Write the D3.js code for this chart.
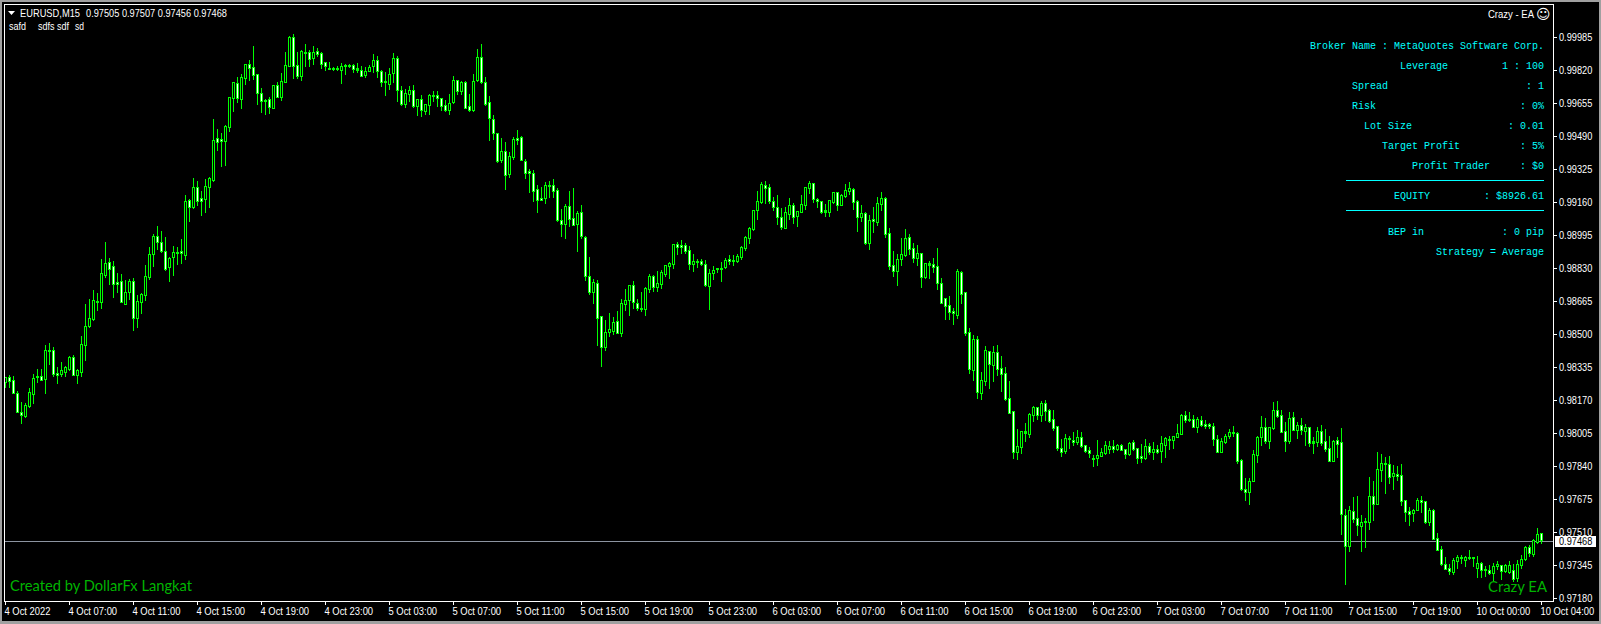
<!DOCTYPE html>
<html>
<head>
<meta charset="utf-8">
<script src="https://cdn.jsdelivr.net/npm/d3@7"></script>
<style>
html,body{margin:0;padding:0;background:#000;overflow:hidden}
svg{display:block}
text{font-family:"Liberation Sans",sans-serif}
</style>
</head>
<body>
<svg id="c" width="1601" height="624"></svg>
<script>
// Prices in points (1e-5), one row = 16 M15 bars
const opens=[
98260,98285,98270,98205,98110,98090,98140,98200,98285,98290,98275,98420,98420,98305,98300,98310,
98325,98385,98295,98310,98445,98540,98575,98665,98660,98795,98860,98840,98760,98765,98650,98710,
98765,98580,98660,98695,98785,98900,98990,98960,98915,98835,98885,98910,98915,98895,99170,99135,
99235,99180,99175,99235,99270,99480,99475,99465,99535,99680,99755,99675,99780,99850,99835,99800,
99705,99670,99675,99630,99745,99685,99760,99840,99985,99845,99790,99910,99910,99880,99915,99905,
99860,99830,99830,99830,99820,99845,99845,99845,99830,99820,99795,99815,99840,99870,99815,99765,
99750,99805,99880,99720,99650,99700,99720,99640,99675,99615,99645,99695,99695,99680,99645,99620,
99660,99770,99715,99760,99640,99620,99770,99885,99760,99660,99575,99505,99370,99415,99300,99385,
99480,99485,99365,99315,99305,99225,99180,99180,99245,99245,99220,99070,99050,99140,99080,99050,
99110,98985,98790,98710,98755,98590,98435,98510,98515,98565,98505,98650,98670,98745,98655,98630,
98625,98725,98790,98735,98750,98800,98840,98850,98950,98945,98945,98920,98850,98865,98865,98850,
98740,98805,98830,98830,98835,98875,98870,98865,98885,98930,98980,99025,99120,99160,99245,99235,
99165,99135,99085,99030,99100,99145,99090,99110,99145,99230,99255,99175,99165,99120,99110,99160,
99210,99145,99190,99215,99225,99165,99085,99105,98955,99075,99060,99150,99180,99005,98845,98815,
98875,98895,98985,98930,98880,98905,98785,98855,98850,98840,98755,98680,98645,98615,98595,98810,
98710,98510,98320,98475,98205,98265,98415,98345,98410,98330,98305,98180,98115,97910,97935,98015,
98000,98095,98135,98095,98155,98120,98075,98040,97930,97915,97980,97970,97960,97985,97945,97920,
97880,97880,97890,97905,97925,97940,97925,97945,97925,97900,97960,97930,97890,97880,97940,97910,
97925,97915,97945,97975,97970,97985,98000,98095,98075,98075,98035,98070,98050,98050,98040,97975,
97910,97960,97990,98010,98005,97870,97725,97710,97765,97895,97985,98035,97965,98030,98120,98095,
98015,97965,98085,98020,98045,98015,98035,97965,97960,98015,97965,97930,97865,97970,97960,97595,
97440,97615,97580,97540,97565,97560,97690,97650,97820,97855,97850,97790,97800,97795,97670,97615,
97605,97620,97670,97665,97560,97620,97480,97425,97350,97330,97310,97365,97385,97370,97385,97385,
97330,97355,97325,97320,97305,97340,97345,97315,97310,97320,97280,97345,97375,97435,97400,97460,
97505];
const closes=[
98285,98265,98205,98110,98095,98145,98210,98280,98290,98270,98420,98415,98300,98295,98320,98335,
98385,98295,98320,98450,98540,98580,98670,98660,98805,98855,98825,98750,98750,98660,98710,98765,
98580,98665,98700,98790,98900,98990,98960,98915,98825,98880,98910,98905,98905,99165,99135,99235,
99165,99165,99240,99280,99470,99460,99465,99540,99685,99760,99680,99785,99850,99830,99795,99705,
99665,99665,99635,99745,99685,99765,99845,99985,99840,99790,99915,99905,99875,99910,99900,99850,
99840,99825,99825,99825,99840,99840,99840,99825,99820,99790,99815,99835,99870,99815,99760,99760,
99800,99880,99720,99650,99705,99720,99640,99675,99620,99650,99695,99690,99680,99640,99620,99655,
99770,99715,99760,99630,99620,99765,99885,99760,99650,99580,99505,99365,99415,99295,99390,99475,
99470,99370,99305,99305,99215,99170,99170,99245,99240,99215,99070,99050,99140,99075,99045,99105,
98990,98790,98710,98760,98580,98435,98510,98525,98560,98505,98655,98670,98745,98660,98630,98625,
98730,98790,98735,98755,98810,98845,98855,98950,98935,98935,98915,98850,98865,98860,98850,98745,
98805,98820,98825,98825,98870,98865,98865,98890,98935,98985,99030,99120,99165,99250,99230,99165,
99135,99085,99035,99110,99145,99085,99115,99150,99235,99255,99175,99165,99110,99110,99170,99210,
99145,99195,99220,99230,99160,99085,99105,98955,99070,99065,99155,99180,99000,98840,98815,98875,
98900,98980,98925,98880,98905,98785,98855,98845,98835,98755,98655,98640,98610,98605,98815,98700,
98505,98325,98475,98210,98270,98420,98350,98410,98325,98300,98175,98105,97910,97940,98015,98005,
98100,98135,98095,98155,98115,98065,98030,97930,97910,97980,97975,97960,97985,97940,97915,97905,
97875,97895,97910,97945,97940,97925,97945,97920,97900,97955,97925,97880,97880,97940,97910,97925,
97910,97955,97980,97970,97990,98005,98095,98070,98070,98035,98075,98045,98040,98040,97975,97910,
97965,97990,98010,98005,97865,97725,97710,97765,97900,97985,98035,97965,98035,98120,98090,98010,
97965,98080,98020,98045,98020,98035,97955,97955,98015,97955,97925,97865,97965,97950,97600,97440,
97620,97575,97545,97560,97560,97690,97650,97825,97855,97850,97785,97805,97790,97665,97610,97600,
97620,97670,97660,97560,97620,97475,97420,97350,97325,97315,97370,97385,97380,97385,97380,97380,
97355,97320,97320,97305,97340,97350,97315,97345,97345,97275,97350,97375,97435,97405,97470,97500,
97468];
const highs=[
98285,98295,98290,98215,98160,98155,98230,98300,98325,98325,98445,98455,98435,98335,98360,98340,
98390,98395,98325,98490,98650,98675,98720,98705,98875,98960,98880,98865,98805,98800,98770,98775,
98780,98695,98705,98845,98935,99000,99040,99015,98985,98885,98940,98935,98975,99195,99175,99280,
99265,99215,99275,99285,99575,99525,99505,99545,99685,99760,99785,99800,99850,99870,99940,99800,
99730,99675,99685,99745,99760,99805,99910,99990,100000,99910,99920,99950,99920,99940,99930,99910,
99860,99860,99835,99840,99855,99850,99850,99850,99855,99840,99835,99845,99900,99890,99820,99810,
99830,99905,99890,99740,99725,99740,99745,99675,99695,99650,99700,99715,99715,99680,99670,99700,
99790,99770,99765,99765,99700,99800,99925,99950,99785,99690,99595,99505,99480,99460,99410,99485,
99520,99490,99375,99325,99320,99245,99235,99260,99265,99275,99230,99125,99150,99215,99230,99115,
99145,98990,98885,98775,98770,98590,98570,98605,98585,98615,98675,98725,98745,98765,98675,98710,
98735,98800,98795,98815,98820,98845,98860,98950,98960,98970,98955,98940,98900,98875,98875,98870,
98825,98840,98830,98860,98880,98895,98895,98900,98940,98990,99035,99120,99215,99260,99265,99250,
99185,99195,99130,99135,99180,99155,99115,99195,99235,99265,99255,99180,99165,99150,99170,99210,
99210,99200,99250,99260,99230,99170,99145,99110,99095,99135,99185,99210,99185,99030,98915,98900,
98980,99025,99000,98955,98945,98905,98855,98865,98880,98930,98780,98680,98690,98630,98825,98815,
98710,98530,98495,98490,98310,98440,98415,98440,98445,98390,98335,98265,98115,98025,98015,98055,
98105,98140,98135,98165,98170,98125,98120,98040,97975,98000,97990,98010,98020,98010,97945,97935,
97895,97970,97930,97965,97965,97970,97950,97950,97925,97960,97970,97930,97950,97975,97955,97960,
97945,97990,97985,97990,97990,98050,98100,98115,98110,98095,98085,98090,98070,98055,98055,97995,
97980,98000,98025,98040,98010,97875,97780,97780,97920,97990,98090,98080,98035,98160,98165,98120,
98060,98110,98110,98060,98080,98050,98035,97985,98035,98045,98025,97990,97970,97985,98030,97625,
97640,97685,97690,97595,97580,97785,97765,97910,97900,97885,97890,97845,97840,97850,97670,97635,
97625,97680,97690,97665,97630,97625,97505,97440,97385,97350,97380,97395,97395,97390,97420,97385,
97390,97360,97340,97345,97355,97365,97345,97350,97365,97350,97370,97395,97440,97445,97475,97530,
97507];
const lows=[
98235,98235,98205,98110,98055,98085,98135,98155,98260,98270,98205,98350,98290,98255,98290,98290,
98320,98295,98255,98290,98370,98535,98570,98620,98630,98785,98750,98685,98710,98660,98650,98675,
98520,98535,98605,98670,98775,98840,98925,98910,98820,98765,98795,98850,98855,98875,99065,99130,
99145,99095,99110,99135,99265,99420,99340,99345,99515,99615,99660,99630,99750,99770,99775,99650,
99610,99600,99605,99630,99685,99670,99760,99840,99780,99780,99770,99840,99840,99850,99890,99830,
99820,99825,99820,99820,99755,99800,99835,99810,99810,99790,99785,99815,99810,99785,99740,99695,
99725,99760,99665,99645,99635,99665,99635,99595,99590,99600,99600,99665,99640,99620,99615,99600,
99655,99700,99700,99630,99615,99615,99765,99755,99645,99470,99475,99360,99360,99225,99285,99375,
99450,99370,99280,99210,99165,99110,99170,99155,99185,99185,99065,98990,98980,99040,99045,98915,
98980,98770,98700,98655,98445,98340,98420,98490,98500,98505,98490,98620,98595,98630,98620,98615,
98595,98710,98715,98715,98730,98790,98780,98830,98900,98905,98905,98825,98815,98835,98845,98740,
98625,98775,98810,98765,98830,98850,98845,98860,98875,98920,98955,99020,99075,99155,99155,99155,
99120,99050,99025,99030,99075,99055,99040,99110,99125,99205,99160,99135,99105,99090,99090,99155,
99120,99145,99185,99200,99125,99015,99065,98950,98925,99010,99045,99120,98985,98825,98790,98745,
98845,98890,98900,98860,98845,98735,98780,98780,98810,98725,98655,98575,98575,98550,98580,98655,
98495,98305,98270,98180,98175,98245,98230,98265,98295,98215,98170,98105,97880,97875,97905,97965,
97985,98065,98075,98065,98070,98060,98020,97920,97890,97905,97930,97945,97950,97935,97910,97885,
97840,97845,97890,97900,97905,97910,97920,97920,97880,97895,97920,97855,97860,97875,97900,97875,
97905,97860,97885,97925,97930,97985,98000,98060,98065,98035,98010,98040,98030,98030,97945,97910,
97910,97955,97980,97990,97855,97720,97670,97650,97765,97860,97945,97955,97930,98025,98085,98010,
97915,97955,98020,97980,98000,97945,97940,97905,97940,97945,97915,97865,97865,97885,97500,97250,
97415,97560,97495,97415,97435,97525,97570,97650,97765,97705,97755,97725,97770,97645,97565,97545,
97565,97620,97610,97555,97545,97475,97420,97345,97325,97300,97300,97330,97355,97340,97375,97340,
97285,97285,97290,97300,97265,97325,97275,97310,97305,97265,97265,97330,97370,97390,97390,97455,
97456];
const priceTicks=[99985,99820,99655,99490,99325,99160,98995,98830,98665,98500,98335,98170,98005,97840,97675,97510,97345,97180];
const timeLabels=["4 Oct 2022","4 Oct 07:00","4 Oct 11:00","4 Oct 15:00","4 Oct 19:00","4 Oct 23:00",
"5 Oct 03:00","5 Oct 07:00","5 Oct 11:00","5 Oct 15:00","5 Oct 19:00","5 Oct 23:00",
"6 Oct 03:00","6 Oct 07:00","6 Oct 11:00","6 Oct 15:00","6 Oct 19:00","6 Oct 23:00",
"7 Oct 03:00","7 Oct 07:00","7 Oct 11:00","7 Oct 15:00","7 Oct 19:00","10 Oct 00:00","10 Oct 04:00"];
const lastPrice=97468;
const panelLeft=[
["Broker Name : MetaQuotes Software Corp.",1310,46],
["Leverage",1400,66],["Spread",1352,86],["Risk",1352,106],["Lot Size",1364,126],
["Target Profit",1382,146],["Profit Trader",1412,166],["EQUITY",1394,196],["BEP in",1388,232],
["Strategy = Average",1436,252]];
const panelRight=[
["1 : 100",1502,66],[": 1",1526,86],[": 0%",1520,106],[": 0.01",1508,126],
[": 5%",1520,146],[": $0",1520,166],[": $8926.61",1484,196],[": 0 pip",1502,232]];

const svg=d3.select("#c");
const n=opens.length;
const x=d3.scaleLinear().domain([0,384]).range([5,1541]);
const y=d3.scaleLinear().domain([99985,97180]).range([37,598]);
const bars=d3.range(n);
const LIME="#00ff00";
// squeeze a text to the narrower width of the reference's UI font
const fit=(sel,f)=>sel.each(function(){this.setAttribute("lengthAdjust","spacingAndGlyphs");this.setAttribute("textLength",(this.getComputedTextLength()*f).toFixed(1));});

// window chrome
svg.append("rect").attr("width",1601).attr("height",624).attr("fill","#000");
const chrome=svg.append("g").attr("fill","#a0a0a0");
chrome.append("rect").attr("width",1601).attr("height",2);
chrome.append("rect").attr("width",2).attr("height",624);
chrome.append("rect").attr("y",621).attr("width",1601).attr("height",3);
chrome.append("rect").attr("x",1599).attr("width",2).attr("height",624);

// price line
svg.append("rect").attr("x",5).attr("y",Math.round(y(lastPrice))+1).attr("width",1548).attr("height",1).attr("fill","#8c94a0");

// candles
const g=svg.append("g").attr("shape-rendering","crispEdges");
g.selectAll(".w").data(bars).join("rect").attr("class","w")
 .attr("x",i=>x(i)).attr("y",i=>y(highs[i])).attr("width",1)
 .attr("height",i=>y(lows[i])-y(highs[i])+1).attr("fill",LIME);
g.selectAll(".b").data(bars).join("rect").attr("class","b")
 .attr("x",i=>x(i)-1).attr("y",i=>y(Math.max(opens[i],closes[i]))).attr("width",3)
 .attr("height",i=>Math.abs(y(opens[i])-y(closes[i]))+1).attr("fill",LIME);
g.selectAll(".m").data(bars.filter(i=>Math.abs(y(opens[i])-y(closes[i]))>=2)).join("rect").attr("class","m")
 .attr("x",i=>x(i)).attr("y",i=>y(Math.max(opens[i],closes[i]))+1).attr("width",1)
 .attr("height",i=>Math.abs(y(opens[i])-y(closes[i]))-1)
 .attr("fill",i=>closes[i]>opens[i]?"#000":"#fff");

// frame
svg.append("rect").attr("x",4.5).attr("y",4.5).attr("width",1549).attr("height",597)
 .attr("fill","none").attr("stroke","#fff").attr("stroke-width",1).attr("shape-rendering","crispEdges");

// axes
const axR=d3.axisRight(y).tickValues(priceTicks).tickSize(4).tickPadding(2).tickFormat(d=>(d/1e5).toFixed(5));
const gy=svg.append("g").attr("transform","translate(1553,0)").call(axR);
const axB=d3.axisBottom(x).tickValues(d3.range(0,385,16)).tickSize(4).tickPadding(3).tickFormat((d,i)=>timeLabels[i]);
const gx=svg.append("g").attr("transform","translate(0,601)").call(axB);
[gy,gx].forEach(a=>{a.select(".domain").remove();a.selectAll("line").attr("stroke","#fff");
 a.selectAll("text").attr("fill","#fff").attr("font-family",'"Liberation Sans",sans-serif').attr("font-size",10);});
gx.selectAll("text").attr("text-anchor","start").attr("x",-1);
fit(gy.selectAll("text"),0.92);
fit(gx.selectAll("text"),0.94);

// last price label
const ly=Math.round(y(lastPrice))+1;
svg.append("rect").attr("x",1555).attr("y",ly-5).attr("width",41).attr("height",11).attr("fill","#fff");
fit(svg.append("text").attr("x",1559).attr("y",ly+4).attr("fill","#000").attr("font-size",10).text((lastPrice/1e5).toFixed(5)),0.92);

// header
svg.append("path").attr("d","M8,11 L15,11 L11.5,15 Z").attr("fill","#fff");
const white=(s,xx,yy,w)=>svg.append("text").attr("x",xx).attr("y",yy).attr("fill","#fff").attr("font-size",10.5)
 .attr("textLength",w).attr("lengthAdjust","spacingAndGlyphs").text(s);
white("EURUSD,M15",20,16.5,60);
white("0.97505 0.97507 0.97456 0.97468",86,16.5,141);
white("safd",9,29.5,17);white("sdfs sdf",38,29.5,31);white("sd",75,29.5,9);
white("Crazy - EA",1488,17.5,46);
svg.append("text").attr("x",1536).attr("y",19).attr("fill","#fff").attr("font-size",14).style("font-family",'"DejaVu Sans"').text("\u263A");

// info panel
const cy="#00ffff";
[...panelLeft,...panelRight].forEach(d=>{
 svg.append("text").attr("x",d[1]).attr("y",d[2]+3).attr("fill",cy).attr("font-size",10)
  .style("font-family",'"Liberation Mono",monospace').text(d[0]);
});
[180,210].forEach(v=>svg.append("rect").attr("x",1346).attr("y",v).attr("width",198).attr("height",1).attr("fill",cy));

// credits
const credit=(s,xx,yy,w)=>svg.append("text").attr("x",xx).attr("y",yy).attr("fill","#00b400").attr("font-size",15)
 .attr("textLength",w).attr("lengthAdjust","spacingAndGlyphs").style("font-family","Lato").text(s);
credit("Created by DollarFx Langkat",10,591,182);
credit("Crazy EA",1488,592,59);
</script>
</body>
</html>
